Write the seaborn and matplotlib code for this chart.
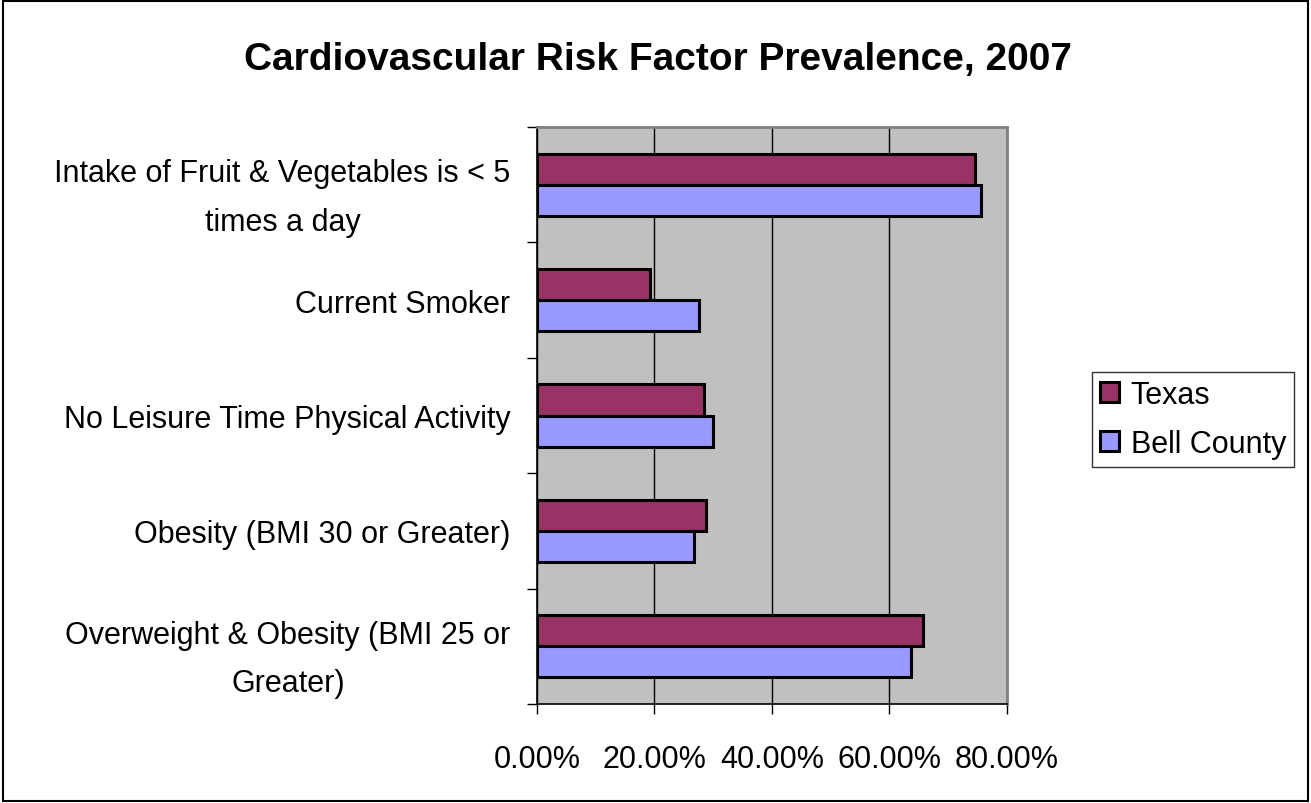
import pandas as pd
import matplotlib
matplotlib.use("Agg")
import matplotlib.pyplot as plt
import matplotlib.ticker as mticker
from matplotlib.patches import Rectangle
import seaborn as sns

# values (percent)
factors = [
    "Intake of Fruit & Vegetables is < 5\ntimes a day",
    "Current Smoker",
    "No Leisure Time Physical Activity",
    "Obesity (BMI 30 or Greater)",
    "Overweight & Obesity (BMI 25 or\nGreater)",
]
texas = [74.6, 19.3, 28.4, 28.7, 65.7]
bell_county = [75.5, 27.5, 29.9, 26.7, 63.6]
regions = ["Texas", "Bell County"]
colors = ["#993366", "#9999FF"]

df = pd.DataFrame({
    "factor": factors * 2,
    "value": texas + bell_county,
    "region": ["Texas"] * len(factors) + ["Bell County"] * len(factors),
})

sns.set_style("white")
plt.rcParams["font.family"] = ["Liberation Sans", "DejaVu Sans"]
plt.rcParams["text.color"] = "black"
plt.rcParams["xtick.color"] = "black"
plt.rcParams["ytick.color"] = "black"

fig = plt.figure(figsize=(13.11, 8.04), dpi=100)
ax = fig.add_axes([0.4096, 0.1231, 0.7681 - 0.4096, 0.8408 - 0.1231])

sns.barplot(
    data=df, y="factor", x="value", hue="region", hue_order=regions,
    order=factors, palette=colors, orient="h", width=0.54,
    edgecolor="black", linewidth=2.2, ax=ax, saturation=1,
)

ax.set_facecolor("#C0C0C0")
ax.set_xlim(0, 80)
ax.set_ylim(4.5, -0.5)
ax.xaxis.set_major_locator(mticker.MultipleLocator(20))
ax.xaxis.set_major_formatter(mticker.FuncFormatter(lambda v, p: f"{v:.2f}%"))
ax.grid(axis="x", color="black", linewidth=1)
ax.set_axisbelow(True)
ax.set_xlabel("")
ax.set_ylabel("")

# boundaries between categories get the tick marks
ax.set_yticks([i - 0.5 for i in range(len(factors) + 1)], minor=True)
ax.tick_params(axis="y", which="major", length=0, pad=19, labelsize=22)
ax.tick_params(axis="y", which="minor", length=7, width=1, color="black", direction="out")
ax.tick_params(axis="x", which="major", length=7, width=1, color="black",
               direction="out", pad=22, labelsize=22)
ax.tick_params(left=True, bottom=True)
ax.yaxis.set_tick_params(which="minor", left=True)
for lbl in ax.get_yticklabels():
    lbl.set_multialignment("center")
    lbl.set_linespacing(1.8)

for side in ["left", "bottom"]:
    ax.spines[side].set_color("black")
    ax.spines[side].set_linewidth(1.2)
for side in ["top", "right"]:
    ax.spines[side].set_color("#808080")
    ax.spines[side].set_linewidth(2)

leg = ax.legend(
    loc="center left", bbox_to_anchor=(1.181, 0.493), fontsize=22, frameon=True,
    fancybox=False, edgecolor="black", handlelength=0.62, handleheight=0.62,
    handletextpad=0.4, borderpad=0.25, labelspacing=0.62, borderaxespad=0,
)
leg.get_frame().set_linewidth(1)

fig.suptitle("Cardiovascular Risk Factor Prevalence, 2007", x=0.502, y=0.948,
             fontsize=28, fontweight="bold")

fig.patches.append(Rectangle((0.002, 0.003), 0.996, 0.994, transform=fig.transFigure,
                             fill=False, edgecolor="black", linewidth=1.5))

plt.savefig("out.png", dpi=100)
plt.close()
